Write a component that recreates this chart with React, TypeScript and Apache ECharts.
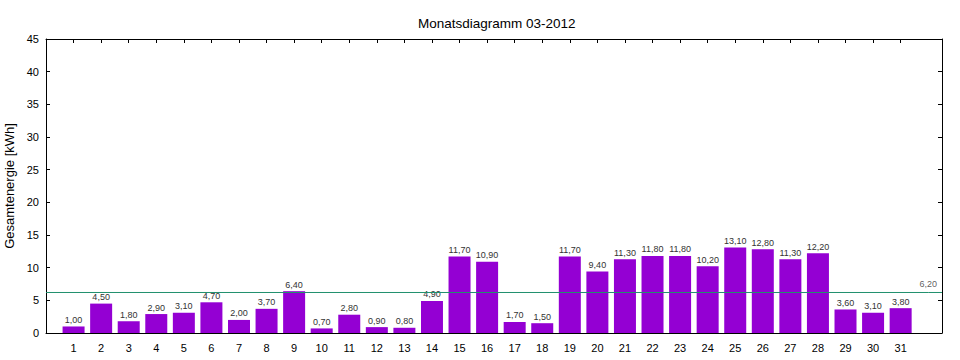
import React, { useEffect, useRef } from "react";
import * as echarts from "echarts";

const days = [1, 2, 3, 4, 5, 6, 7, 8, 9, 10, 11, 12, 13, 14, 15, 16, 17, 18, 19, 20, 21, 22, 23, 24, 25, 26, 27, 28, 29, 30, 31];
const energy = [1.0, 4.5, 1.8, 2.9, 3.1, 4.7, 2.0, 3.7, 6.4, 0.7, 2.8, 0.9, 0.8, 4.9, 11.7, 10.9, 1.7, 1.5, 11.7, 9.4, 11.3, 11.8, 11.8, 10.2, 13.1, 12.8, 11.3, 12.2, 3.6, 3.1, 3.8];
const average = 6.2;
const avgPosition = 32;
const title = "Monatsdiagramm 03-2012";
const yName = "Gesamtenergie [kWh]";

const fmt = (v: number) => v.toFixed(2).replace(".", ",");
const FONT = "Liberation Sans, Arial, sans-serif";

export default function App() {
  const ref = useRef<HTMLDivElement>(null);
  useEffect(() => {
    if (!ref.current) return;
    const chart = echarts.init(ref.current, undefined, { renderer: "svg" });
    chart.setOption({
      animation: false,
      backgroundColor: "#ffffff",
      title: {
        text: title,
        left: 413,
        top: 11,
        textStyle: { fontFamily: FONT, fontSize: 13.5, fontWeight: "normal", color: "#000" },
      },
      grid: { left: 46, right: 18, top: 39, bottom: 27, containLabel: false, outerBoundsMode: "none" },
      xAxis: [
        {
          type: "value",
          position: "bottom",
          min: 0,
          max: 32.5,
          interval: 1,
          axisLine: { show: true, onZero: false, lineStyle: { color: "#000", width: 1 } },
          axisTick: { show: false },
          axisLabel: {
            customValues: days,
            fontFamily: FONT,
            fontSize: 11,
            color: "#000",
            margin: 9,
          },
          splitLine: { show: false },
        },
        {
          type: "value",
          position: "top",
          min: 0,
          max: 32.5,
          interval: 1,
          axisLine: { show: true, onZero: false, lineStyle: { color: "#000", width: 1 } },
          axisTick: { show: true, inside: true, length: 4, customValues: days, lineStyle: { color: "#000" } },
          axisLabel: { show: false },
          splitLine: { show: false },
        },
      ],
      yAxis: [
        {
          type: "value",
          position: "left",
          min: 0,
          max: 45,
          interval: 5,
          name: yName,
          nameLocation: "middle",
          nameGap: 25,
          nameTextStyle: { fontFamily: FONT, fontSize: 13, color: "#000" },
          axisLine: { show: true, onZero: false, lineStyle: { color: "#000", width: 1 } },
          axisTick: { show: true, inside: true, length: 4, lineStyle: { color: "#000" } },
          axisLabel: { fontFamily: FONT, fontSize: 11, color: "#000", margin: 7 },
          splitLine: { show: false },
        },
        {
          type: "value",
          position: "right",
          min: 0,
          max: 45,
          interval: 5,
          axisLine: { show: true, onZero: false, lineStyle: { color: "#000", width: 1 } },
          axisTick: { show: true, inside: true, length: 4, lineStyle: { color: "#000" } },
          axisLabel: { show: false },
          splitLine: { show: false },
        },
      ],
      series: [
        {
          type: "bar",
          xAxisIndex: 0,
          yAxisIndex: 0,
          barWidth: 22,
          data: days.map((d, i) => [d, energy[i]]),
          itemStyle: { color: "#9400d3" },
          label: {
            show: true,
            position: "top",
            distance: 2,
            fontFamily: FONT,
            fontSize: 9,
            color: "#333",
            formatter: (p: any) => fmt(p.value[1]),
          },
        },
        {
          type: "line",
          xAxisIndex: 0,
          yAxisIndex: 0,
          symbol: "none",
          data: [[0, average], [avgPosition, average], [32.5, average]],
          lineStyle: { color: "#21906e", width: 1 },
          label: { show: false },
          z: 5,
        },
        {
          type: "scatter",
          xAxisIndex: 0,
          yAxisIndex: 0,
          symbolSize: 0,
          data: [[avgPosition, average]],
          label: {
            show: true,
            position: "top",
            distance: 4,
            fontFamily: FONT,
            fontSize: 9,
            color: "#333",
            formatter: () => fmt(average),
          },
        },
      ],
    });
    return () => chart.dispose();
  }, []);
  return <div ref={ref} style={{ position: "fixed", left: 0, top: 0, width: 960, height: 360 }} />;
}
